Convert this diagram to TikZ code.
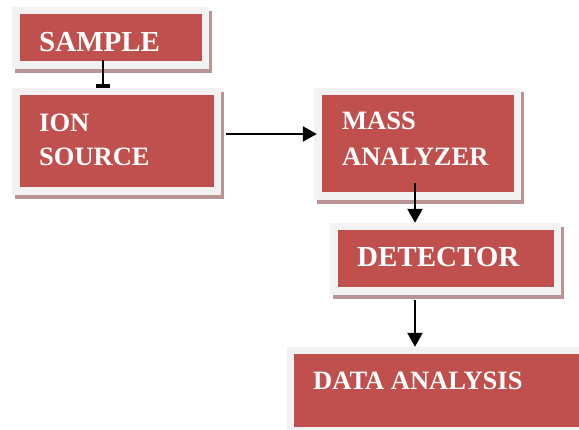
\documentclass[tikz,border=0pt]{standalone}
\usepackage{fontspec}
\setmainfont{Liberation Serif}
\usetikzlibrary{arrows.meta}
\definecolor{boxred}{HTML}{C0504D}
\definecolor{framegray}{HTML}{F2F2F2}
\definecolor{shadowc}{HTML}{B89494}
\tikzset{
  framebox/.style={fill=framegray, draw=none, inner sep=0pt},
  redface/.style={fill=boxred, draw=none, inner sep=0pt},
  shadowfill/.style={fill=shadowc},
  lbl/.style={text=white, font=\bfseries\fontsize{26.5}{30}\selectfont, inner sep=0pt, anchor=base west},
  biglbl/.style={lbl, font=\bfseries\fontsize{29}{32}\selectfont},
  arr/.style={line width=2.4pt, -{Triangle[length=14pt,width=15pt]}},
  teeline/.style={line width=2.4pt, -{Bar[width=14pt,line width=3.5pt]}},
}
% #1 name, #2 x1, #3 y1, #4 x2, #5 y2 of the frame; red face inset by 7.5
\newcommand\mypanel[5]{%
  \fill[shadowfill] ({#2+3},{#3+4.5}) rectangle ({#4+3},{#5+4.5});
  \node[framebox, minimum width={(#4-#2)*1pt}, minimum height={(#5-#3)*1pt}] (#1) at ({(#2+#4)/2},{(#3+#5)/2}) {};
  \node[redface, minimum width={(#4-#2-15)*1pt}, minimum height={(#5-#3-15)*1pt}] (#1face) at ({(#2+#4)/2},{(#3+#5)/2}) {};
}
\begin{document}
\begin{tikzpicture}[x=1pt,y=-1pt]
\useasboundingbox (0,0) rectangle (579,430);
\clip (0,0) rectangle (579,430);
\fill[white] (0,0) rectangle (579,430);

\mypanel{sample}{12}{7}{209}{69}
\mypanel{ion}{12}{88}{221}{195}
\mypanel{mass}{314}{88}{521}{200}
\mypanel{det}{330}{223}{561}{295}
% data analysis panel runs off the page
\node[framebox, minimum width=303pt, minimum height=93pt] (data) at (438.5,393.5) {};
\node[redface, minimum width=296pt, minimum height=73pt] (dataface) at (442,390.5) {};

\node[biglbl] (tsample) at (39,51.5) {SAMPLE};
\node[lbl] (tion) at (39,131.5) {ION};
\node[lbl] (tsource) at (39,166) {SOURCE};
\node[lbl] (tmass) at (342,130) {MASS};
\node[lbl] (tanalyzer) at (342,166) {ANALYZER};
\node[biglbl] (tdet) at (357,267) {DETECTOR};
\node[lbl] (tdata) at (313,390) {DATA ANALYSIS};

\draw[teeline] ([xshift=-7.5pt,yshift=9pt]sample.south) coordinate (a1) -- (a1 |- ion.north);
\draw[arr, shorten >=-3pt] ([xshift=5pt,yshift=7.5pt]ion.east) coordinate (a2) -- (a2 -| mass.west);
\draw[arr] ([xshift=-2.5pt,yshift=17pt]mass.south) coordinate (a3) -- (a3 |- det.north);
\draw[arr] ([xshift=-30.5pt,yshift=-5pt]det.south) coordinate (a4) -- (a4 |- data.north);
\end{tikzpicture}
\end{document}
